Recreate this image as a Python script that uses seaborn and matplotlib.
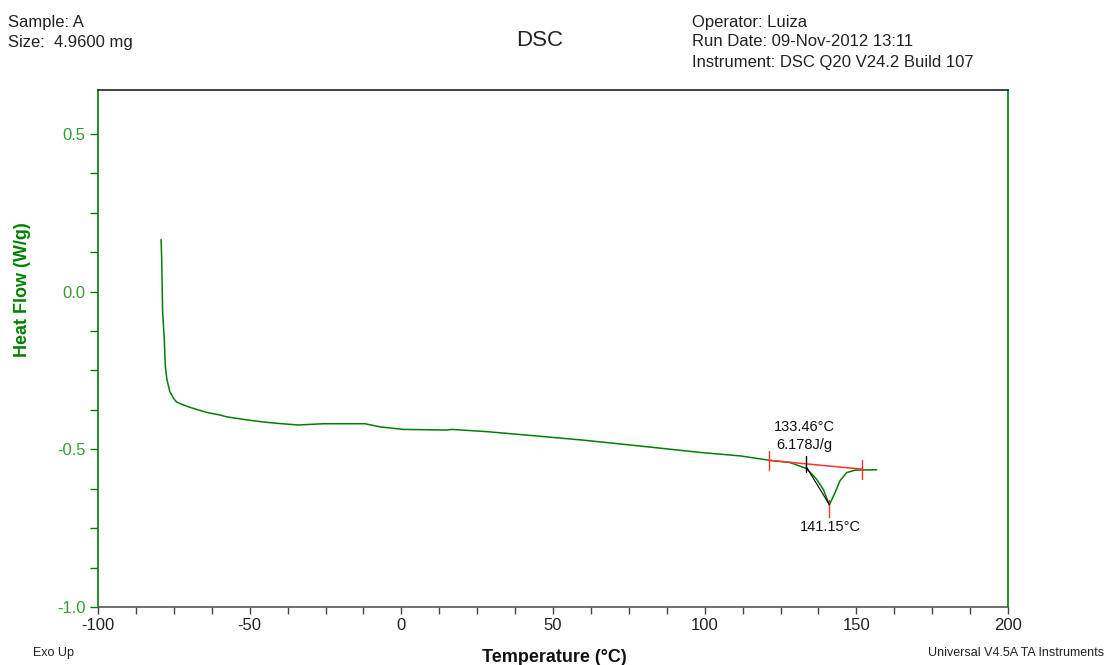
import matplotlib
matplotlib.use("Agg")
import matplotlib.pyplot as plt
import seaborn as sns
import pandas as pd
import numpy as np
from matplotlib.ticker import FixedLocator

# ---- data ----
temperature = [-79.2, -79.0, -78.9, -78.7, -78.2, -77.8, -77.3, -76.3, -75.0, -74.1,
               -72.0, -69.7, -67.0, -64.2, -60.0, -57.6, -55.0, -50.0, -45.0, -40.6,
               -34.0, -25.7, -12.0, -7.0, 0.7, 14.9, 16.6, 28.1, 41.3, 60.0,
               82.0, 98.5, 111.7, 121.5, 128.1, 133.6, 136.9, 139.1, 141.1, 143.0,
               144.6, 146.8, 149.6, 156.7]
heat_flow = [0.165, 0.10, 0.048, -0.066, -0.141, -0.236, -0.278, -0.318, -0.340, -0.350,
             -0.359, -0.367, -0.375, -0.383, -0.391, -0.397, -0.401, -0.408, -0.414, -0.418,
             -0.423, -0.419, -0.419, -0.429, -0.437, -0.439, -0.437, -0.444, -0.455, -0.471,
             -0.493, -0.510, -0.521, -0.535, -0.542, -0.561, -0.595, -0.627, -0.676, -0.637,
             -0.600, -0.574, -0.566, -0.565]

baseline_x = [121.2, 151.9]
baseline_y = [-0.535, -0.563]
onset_temp = 133.46
peak_temp = 141.15
peak_flow = -0.676
enthalpy = "6.178J/g"

x_ticks = [-100, -50, 0, 50, 100, 150, 200]
y_ticks = [0.5, 0.0, -0.5, -1.0]

GREEN = "#008000"
LIGHTGREEN = "#30a030"
RED = "#ff3030"

sns.set_style("white")
plt.rcParams['font.family'] = ['Liberation Sans', 'DejaVu Sans']

fig = plt.figure(figsize=(11.06, 6.65), dpi=100)
ax = fig.add_axes([98/1106, 1-607/665, (1008-98)/1106, (607-90)/665])

df = pd.DataFrame({"Temperature": temperature, "HeatFlow": heat_flow})
sns.lineplot(data=df, x="Temperature", y="HeatFlow", sort=False, estimator=None,
             color=GREEN, linewidth=1.1, ax=ax)

# baseline and markers
ax.plot(baseline_x, baseline_y, color=RED, linewidth=1.1)
for bx, by in zip(baseline_x, baseline_y):
    ax.plot([bx, bx], [by - 0.03, by + 0.03], color=RED, linewidth=1.0)
ax.plot([peak_temp, peak_temp], [peak_flow + 0.015, peak_flow - 0.04], color=RED, linewidth=1.0)
ax.plot([onset_temp, onset_temp], [-0.52, -0.572], color="black", linewidth=1.0)
ax.plot([onset_temp, peak_temp], [-0.555, peak_flow], color="black", linewidth=0.8)

ax.text(onset_temp - 0.5, -0.43, f"{onset_temp:.2f}°C", ha="center", va="center", fontsize=10.5, color="#111111")
ax.text(onset_temp - 0.5, -0.487, enthalpy, ha="center", va="center", fontsize=10.5, color="#111111")
ax.text(peak_temp + 0.3, -0.745, f"{peak_temp:.2f}°C", ha="center", va="center", fontsize=10.5, color="#111111")

ax.set_xlim(-100, 200)
ax.set_ylim(-1.0, 0.639)
ax.set_xticks(x_ticks)
ax.set_yticks(y_ticks)
ax.set_xticklabels([str(t) for t in x_ticks])
ax.set_yticklabels([f"{t:.1f}" for t in y_ticks])
ax.xaxis.set_minor_locator(FixedLocator(np.arange(-100, 200.1, 12.5)))
ax.yaxis.set_minor_locator(FixedLocator(np.arange(-1.0, 0.51, 0.125)))

ax.tick_params(axis="x", which="both", direction="out", bottom=True, length=5, width=1,
               color="#444444", labelsize=12, labelcolor="#222222", pad=3)
ax.tick_params(axis="y", which="both", direction="out", left=True, length=6, width=1,
               color=GREEN, labelsize=12, labelcolor=LIGHTGREEN, pad=3)

for side in ["left", "right"]:
    ax.spines[side].set_color(GREEN)
    ax.spines[side].set_linewidth(1.2)
ax.spines["top"].set_color("#222222")
ax.spines["bottom"].set_color("#555555")
ax.spines["top"].set_linewidth(1.2)
ax.spines["bottom"].set_linewidth(1.2)

ax.set_xlabel("")
ax.set_ylabel("Heat Flow (W/g)", fontsize=13, fontweight="bold", color=GREEN)
ax.yaxis.set_label_coords((31-98)/910, (607-290)/517)
fig.text(554/1106, 1-657/665, "Temperature (°C)", ha="center", va="center", fontsize=13, fontweight="bold", color="#111111")

# header texts
hdr = dict(fontsize=12, color="#222222", va="center")
fig.text(8/1106, 1-22/665, "Sample: A", ha="left", **hdr)
fig.text(8/1106, 1-42/665, "Size:  4.9600 mg", ha="left", **hdr)
fig.text(540/1106, 1-40/665, "DSC", ha="center", va="center", fontsize=16, color="#222222")
fig.text(692/1106, 1-22/665, "Operator: Luiza", ha="left", **hdr)
fig.text(692/1106, 1-42/665, "Run Date: 09-Nov-2012 13:11", ha="left", **hdr)
fig.text(692/1106, 1-63/665, "Instrument: DSC Q20 V24.2 Build 107", ha="left", **hdr)
fig.text(33/1106, 1-653/665, "Exo Up", ha="left", va="center", fontsize=9, color="#222222")
fig.text(1104/1106, 1-653/665, "Universal V4.5A TA Instruments", ha="right", va="center", fontsize=9, color="#222222")

fig.savefig("out.png", dpi=100)
